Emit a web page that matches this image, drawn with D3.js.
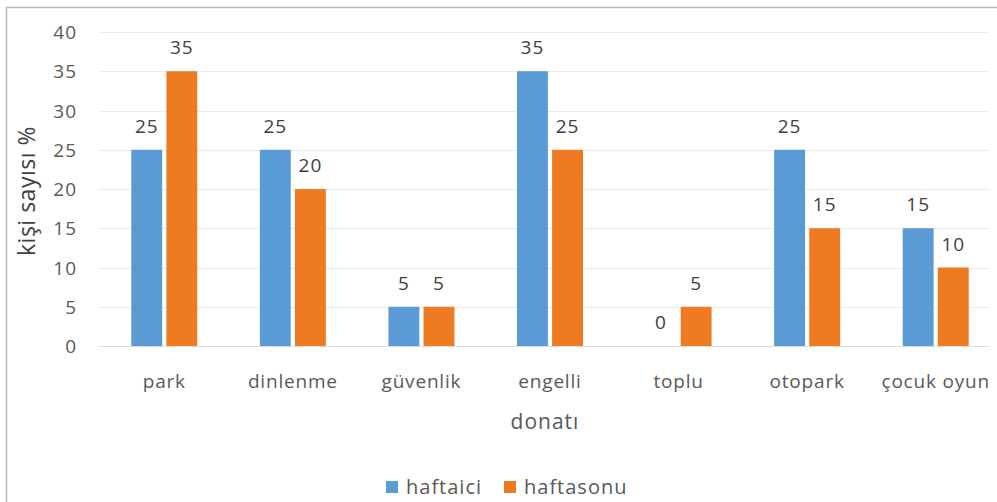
<!DOCTYPE html>
<html>
<head>
<meta charset="utf-8">
<script src="https://cdn.jsdelivr.net/npm/d3@7"></script>
<style>
  body { margin: 0; background: #fff; }
  text { font-family: "Open Sans", "Noto Sans", sans-serif; }
</style>
</head>
<body>
<div id="chart"></div>
<script>
var width = 997;
var height = 502;

// data
var categories = ["park", "dinlenme", "güvenlik", "engelli", "toplu", "otopark", "çocuk oyun"];
var haftaici = [25, 25, 5, 35, 0, 25, 15];
var haftasonu = [35, 20, 5, 25, 5, 15, 10];
var seriesNames = ["haftaici", "haftasonu"];
var yTicks = [0, 5, 10, 15, 20, 25, 30, 35, 40];

var colors = {"haftaici": "#5b9bd5", "haftasonu": "#ee7b22"};

var svg = d3.select("#chart")
  .append("svg")
  .attr("width", width)
  .attr("height", height);

// outer frame (only top and left are visible in the crop)
svg.append("path")
  .attr("d", "M6.5," + height + " V7.5 H" + width)
  .attr("fill", "none")
  .attr("stroke", "#b8b8b8")
  .attr("stroke-width", 1.5);

var x = d3.scaleBand()
  .domain(categories)
  .range([100, 1000]);

var y = d3.scaleLinear()
  .domain([0, 40])
  .range([346, 32]);

// gridlines
svg.append("g")
  .selectAll("line")
  .data(yTicks)
  .enter()
  .append("line")
  .attr("x1", 98)
  .attr("x2", 990)
  .attr("y1", function(d) { return Math.round(y(d)) + 0.5; })
  .attr("y2", function(d) { return Math.round(y(d)) + 0.5; })
  .attr("stroke", function(d) { return d === 0 ? "#dcdcdc" : "#ebebeb"; })
  .attr("stroke-width", 1.2);

// y axis labels
var yAxis = d3.axisLeft(y).tickValues(yTicks).tickSize(0).tickPadding(0);
var yg = svg.append("g")
  .attr("transform", "translate(77,0)")
  .call(yAxis);
yg.select(".domain").remove();
yg.selectAll("text")
  .attr("fill", "#595959")
  .style("font-size", "19px")
  .style("letter-spacing", "1px")
  .attr("dy", "0.35em");

// bars
var rows = categories.map(function(c, i) {
  return {cat: c, values: [
    {name: "haftaici", value: haftaici[i]},
    {name: "haftasonu", value: haftasonu[i]}
  ]};
});

var inner = d3.scaleBand()
  .domain(seriesNames)
  .range([-33, 33])
  .paddingInner(0.12);

var groups = svg.append("g")
  .selectAll("g")
  .data(rows)
  .enter()
  .append("g")
  .attr("transform", function(d) {
    return "translate(" + (x(d.cat) + x.bandwidth() / 2) + ",0)";
  });

groups.selectAll("rect")
  .data(function(d) { return d.values; })
  .enter()
  .append("rect")
  .attr("x", function(d) { return inner(d.name); })
  .attr("width", inner.bandwidth())
  .attr("y", function(d) { return y(d.value); })
  .attr("height", function(d) { return y(0) - y(d.value); })
  .attr("fill", function(d) { return colors[d.name]; });

// value labels
groups.selectAll("text.val")
  .data(function(d) { return d.values; })
  .enter()
  .append("text")
  .attr("class", "val")
  .attr("x", function(d) { return inner(d.name) + inner.bandwidth() / 2; })
  .attr("y", function(d) { return y(d.value) - 17; })
  .attr("text-anchor", "middle")
  .attr("fill", "#404040")
  .style("font-size", "19px")
  .style("letter-spacing", "1px")
  .text(function(d) { return d.value; });

// x axis labels
var xAxis = d3.axisBottom(x).tickSize(0).tickPadding(0);
var xg = svg.append("g")
  .attr("transform", "translate(0,388)")
  .call(xAxis);
xg.select(".domain").remove();
xg.selectAll("text")
  .attr("fill", "#595959")
  .attr("dy", 0)
  .style("font-size", "19px")
  .style("letter-spacing", "0.8px");

// axis titles
svg.append("text")
  .attr("x", 545)
  .attr("y", 429)
  .attr("text-anchor", "middle")
  .attr("fill", "#595959")
  .style("font-size", "21px")
  .style("letter-spacing", "1px")
  .text("donatı");

svg.append("text")
  .attr("transform", "translate(35,191) rotate(-90)")
  .attr("text-anchor", "middle")
  .attr("fill", "#404040")
  .style("font-size", "23px")
  .style("letter-spacing", "0.5px")
  .text("kişi sayısı %");

// legend
var legendData = [
  {name: "haftaici", x: 386},
  {name: "haftasonu", x: 504}
];
var legend = svg.append("g")
  .selectAll("g")
  .data(legendData)
  .enter()
  .append("g")
  .attr("transform", function(d) { return "translate(" + d.x + ",481)"; });

legend.append("rect")
  .attr("width", 12)
  .attr("height", 12)
  .attr("fill", function(d) { return colors[d.name]; });

legend.append("text")
  .attr("x", 20)
  .attr("y", 13)
  .attr("fill", "#595959")
  .style("font-size", "20px")
  .style("letter-spacing", "1px")
  .text(function(d) { return d.name; });
</script>
</body>
</html>
